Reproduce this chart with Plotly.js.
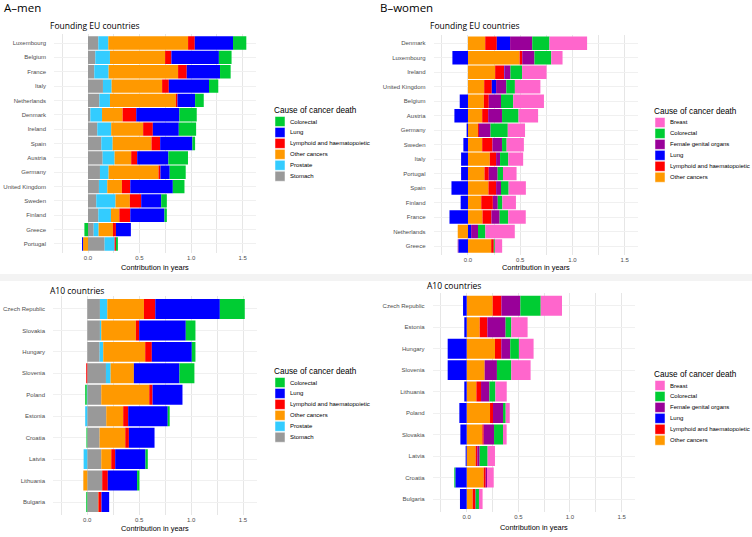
<!DOCTYPE html>
<html>
<head>
<meta charset="utf-8">
<script src="https://cdn.plot.ly/plotly-3.0.1.min.js"></script>
<style>
  html, body { margin: 0; padding: 0; background: #fff; }
  #chart { width: 752px; height: 537px; }
</style>
</head>
<body>
<div id="chart"></div>
<script>
// causes, in stacking order (first = next to zero)
const menCauses = ['Stomach', 'Prostate', 'Other cancers', 'Lymphoid and haematopoietic', 'Lung', 'Colorectal'];
const womenCauses = ['Other cancers', 'Lymphoid and haematopoietic', 'Lung', 'Female genital organs', 'Colorectal', 'Breast'];

// A - men, founding EU countries
const menFoundingCountries = ['Luxembourg', 'Belgium', 'France', 'Italy', 'Netherlands', 'Denmark', 'Ireland', 'Spain', 'Austria', 'Germany', 'United Kingdom', 'Sweden', 'Finland', 'Greece', 'Portugal'];
const menFoundingStomach    = [0.100, 0.071, 0.061, 0.145, 0.110, 0.023, 0.090, 0.129, 0.142, 0.116, 0.106, 0.080, 0.100, 0.055, 0.161];
const menFoundingProstate   = [0.097, 0.142, 0.139, 0.084, 0.103, 0.113, 0.135, 0.110, 0.116, 0.084, 0.081, 0.187, 0.123, 0.048, 0.097];
const menFoundingOther      = [0.774, 0.535, 0.674, 0.490, 0.639, 0.200, 0.310, 0.377, 0.161, 0.484, 0.142, 0.139, 0.081, 0.139, -0.048];
const menFoundingLymphoid   = [0.065, 0.061, 0.084, 0.065, 0.016, 0.132, 0.094, 0.084, 0.058, 0.019, 0.081, 0.110, 0.106, 0.029, 0.013];
const menFoundingLung       = [0.371, 0.461, 0.323, 0.390, 0.171, 0.419, 0.252, 0.313, 0.303, 0.090, 0.413, 0.194, 0.332, 0.145, -0.010];
const menFoundingColorectal = [0.129, 0.123, 0.103, 0.090, 0.084, 0.168, 0.168, 0.026, 0.190, 0.155, 0.113, 0.055, 0.023, -0.035, 0.019];

// A - men, A10 countries
const menA10Countries = ['Czech Republic', 'Slovakia', 'Hungary', 'Slovenia', 'Poland', 'Estonia', 'Croatia', 'Latvia', 'Lithuania', 'Bulgaria'];
const menA10Stomach    = [0.122, 0.122, 0.119, 0.180, 0.135, 0.183, 0.119, 0.135, 0.144, 0.103];
const menA10Prostate   = [0.071, 0.013, 0.035, 0.045, -0.005, -0.020, 0.000, -0.035, 0.000, 0.000];
const menA10Other      = [0.353, 0.333, 0.404, 0.224, 0.462, 0.163, 0.247, 0.096, -0.038, 0.005];
const menA10Lymphoid   = [0.109, 0.032, 0.064, -0.010, 0.032, 0.048, 0.035, 0.038, 0.054, 0.029];
const menA10Lung       = [0.622, 0.449, 0.385, 0.439, 0.288, 0.381, 0.247, 0.292, 0.282, 0.074];
const menA10Colorectal = [0.240, 0.093, 0.035, 0.144, -0.015, 0.019, -0.008, 0.022, 0.022, -0.010];

// B - women, founding EU countries
const womenFoundingCountries = ['Denmark', 'Luxembourg', 'Ireland', 'United Kingdom', 'Belgium', 'Austria', 'Germany', 'Sweden', 'Italy', 'Portugal', 'Spain', 'Finland', 'France', 'Netherlands', 'Greece'];
const womenFoundingOther      = [0.165, 0.494, 0.260, 0.155, 0.152, 0.136, 0.095, 0.136, 0.209, 0.158, 0.196, 0.127, 0.139, -0.098, 0.222];
const womenFoundingLymphoid   = [0.111, 0.025, 0.085, 0.073, 0.047, 0.057, 0.010, 0.098, 0.060, 0.041, 0.073, 0.111, 0.085, 0.000, 0.025];
const womenFoundingLung       = [0.127, -0.149, 0.005, 0.041, -0.079, -0.130, -0.013, -0.044, -0.066, -0.066, -0.158, -0.070, -0.177, 0.030, -0.092];
const womenFoundingFemale     = [0.212, 0.117, 0.057, 0.098, 0.117, 0.133, 0.111, 0.092, 0.038, 0.085, 0.047, 0.047, 0.079, 0.066, -0.006];
const womenFoundingColorectal = [0.165, 0.161, 0.111, 0.082, 0.117, 0.158, 0.165, 0.044, 0.079, 0.051, 0.073, 0.044, 0.082, 0.070, 0.010];
const womenFoundingBreast     = [0.360, 0.108, 0.234, 0.244, 0.294, 0.187, 0.165, 0.165, 0.142, 0.130, 0.165, 0.130, 0.168, 0.282, 0.070];

// B - women, A10 countries
const womenA10Countries = ['Czech Republic', 'Estonia', 'Hungary', 'Slovenia', 'Lithuania', 'Poland', 'Slovakia', 'Latvia', 'Croatia', 'Bulgaria'];
const womenA10Other      = [0.252, 0.126, 0.274, 0.174, 0.094, 0.226, 0.152, 0.087, 0.165, 0.058];
const womenA10Lymphoid   = [0.084, 0.074, 0.061, 0.000, 0.045, 0.029, 0.013, 0.016, 0.019, 0.023];
const womenA10Lung       = [-0.035, -0.023, -0.184, -0.184, -0.023, -0.071, -0.061, -0.010, -0.110, -0.065];
const womenA10Female     = [0.184, 0.177, 0.087, 0.119, 0.081, 0.097, 0.100, 0.023, 0.013, 0.006];
const womenA10Colorectal = [0.197, 0.055, 0.084, 0.139, 0.058, 0.026, 0.087, 0.077, -0.010, 0.032];
const womenA10Breast     = [0.206, 0.158, 0.142, 0.187, 0.110, 0.039, 0.035, 0.071, 0.065, 0.035];

const xTickVals = [0, 0.5, 1, 1.5];
const xTickText = ['0.0', '0.5', '1.0', '1.5'];

const causeColors = {
  'Colorectal': '#00cc33',
  'Lung': '#0000ff',
  'Lymphoid and haematopoietic': '#ff0000',
  'Other cancers': '#ff9900',
  'Prostate': '#33ccff',
  'Stomach': '#999999',
  'Breast': '#ff66cc',
  'Female genital organs': '#990099'
};

const W = 752, H = 537;
const fx = p => p / W;
const fy = p => 1 - p / H;

const panels = [
  { cats: menFoundingCountries, causes: menCauses,
    series: [menFoundingStomach, menFoundingProstate, menFoundingOther, menFoundingLymphoid, menFoundingLung, menFoundingColorectal],
    n: '', box: [54, 256, 34.4, 252.6], title: 'Founding EU countries', titleAt: [48, 26], xTitleY: 267, legendAt: [272, 110] },
  { cats: menA10Countries, causes: menCauses,
    series: [menA10Stomach, menA10Prostate, menA10Other, menA10Lymphoid, menA10Lung, menA10Colorectal],
    n: '2', box: [53, 256.5, 296.1, 514.9], title: 'A10 countries', titleAt: [48, 290], xTitleY: 528, legendAt: [272, 371] },
  { cats: womenFoundingCountries, causes: womenCauses,
    series: [womenFoundingOther, womenFoundingLymphoid, womenFoundingLung, womenFoundingFemale, womenFoundingColorectal, womenFoundingBreast],
    n: '3', box: [433.5, 638.3, 34.6, 254.7], title: 'Founding EU countries', titleAt: [428, 26], xTitleY: 268, legendAt: [652, 111] },
  { cats: womenA10Countries, causes: womenCauses,
    series: [womenA10Other, womenA10Lymphoid, womenA10Lung, womenA10Female, womenA10Colorectal, womenA10Breast],
    n: '4', box: [432.6, 635, 292.8, 511.9], title: 'A10 countries', titleAt: [425, 285], xTitleY: 527, legendAt: [652, 374] }
];

const traces = [];
const annotations = [];
const shapes = [];
const layout = {
  width: W, height: H,
  margin: { l: 0, r: 0, t: 0, b: 0 },
  paper_bgcolor: '#fff', plot_bgcolor: '#fff',
  barmode: 'relative', bargap: 0.07,
  showlegend: false,
  font: { family: 'Liberation Sans, Arial, sans-serif', color: '#4d4d4d' }
};

// thin grey strip between the two rows of panels
shapes.push({ type: 'rect', xref: 'paper', yref: 'paper', x0: 0, x1: 1, y0: fy(281), y1: fy(274),
  fillcolor: '#f3f3f3', line: { width: 0 }, layer: 'below' });

panels.forEach(p => {
  const xa = 'x' + p.n, ya = 'y' + p.n;
  p.series.forEach((vals, i) => {
    traces.push({
      type: 'bar', orientation: 'h',
      x: vals, y: p.cats,
      name: p.causes[i],
      marker: { color: causeColors[p.causes[i]], line: { width: 0 } },
      xaxis: xa, yaxis: ya,
      hovertemplate: '%{y}: %{x:.2f}<extra>' + p.causes[i] + '</extra>'
    });
  });

  layout['xaxis' + p.n] = {
    domain: [fx(p.box[0]), fx(p.box[1])], anchor: ya,
    range: [-0.33, 1.63], zeroline: false,
    tickvals: xTickVals, ticktext: xTickText,
    tickfont: { size: 6, color: '#4d4d4d' },
    showgrid: true, gridcolor: '#e6e6e6', gridwidth: 1,
    minor: { dtick: 0.25, tick0: 0, showgrid: true, gridcolor: '#e6e6e6', gridwidth: 1 },
    showline: false, ticks: '', fixedrange: true
  };
  layout['yaxis' + p.n] = {
    domain: [fy(p.box[3]), fy(p.box[2])], anchor: xa,
    type: 'category', categoryorder: 'array', categoryarray: p.cats,
    range: [p.cats.length - 0.4, -0.6],
    tickfont: { size: 6, color: '#4d4d4d' },
    ticklabelstandoff: 7,
    showgrid: true, gridcolor: '#f0f0f0', gridwidth: 1,
    zeroline: false, showline: false, ticks: '', fixedrange: true
  };

  // panel title
  annotations.push({ xref: 'paper', yref: 'paper', x: fx(p.titleAt[0]), y: fy(p.titleAt[1]),
    xanchor: 'left', yanchor: 'middle', showarrow: false, text: p.title,
    font: { family: 'Open Sans, sans-serif', size: 8.5, color: '#000' } });
  // axis title
  annotations.push({ xref: 'paper', yref: 'paper', x: fx((p.box[0] + p.box[1]) / 2), y: fy(p.xTitleY),
    xanchor: 'center', yanchor: 'middle', showarrow: false, text: 'Contribution in years',
    font: { size: 7.4, color: '#000' } });

  // legend: title, then keys in reversed stacking order
  const lx = p.legendAt[0], ly = p.legendAt[1];
  annotations.push({ xref: 'paper', yref: 'paper', x: fx(lx), y: fy(ly), xanchor: 'left', yanchor: 'middle',
    showarrow: false, text: 'Cause of cancer death', font: { size: 8.2, color: '#000' } });
  p.causes.slice().reverse().forEach((c, i) => {
    const cy = ly + 11.5 + i * 10.95;
    shapes.push({ type: 'rect', xref: 'paper', yref: 'paper',
      x0: fx(lx + 3), x1: fx(lx + 13), y0: fy(cy + 5), y1: fy(cy - 5),
      fillcolor: causeColors[c], line: { color: '#fff', width: 0.5 } });
    annotations.push({ xref: 'paper', yref: 'paper', x: fx(lx + 16), y: fy(cy), xanchor: 'left', yanchor: 'middle',
      showarrow: false, text: c, font: { size: 6, color: '#000' } });
  });
});

// figure labels
annotations.push({ xref: 'paper', yref: 'paper', x: fx(2), y: fy(7), xanchor: 'left', yanchor: 'middle',
  showarrow: false, text: 'A–men', font: { family: 'Open Sans, sans-serif', size: 11.5, color: '#000' } });
annotations.push({ xref: 'paper', yref: 'paper', x: fx(378), y: fy(7), xanchor: 'left', yanchor: 'middle',
  showarrow: false, text: 'B–women', font: { family: 'Open Sans, sans-serif', size: 11.5, color: '#000' } });

layout.annotations = annotations;
layout.shapes = shapes;

Plotly.newPlot('chart', traces, layout, { displayModeBar: false, staticPlot: true });
</script>
</body>
</html>
